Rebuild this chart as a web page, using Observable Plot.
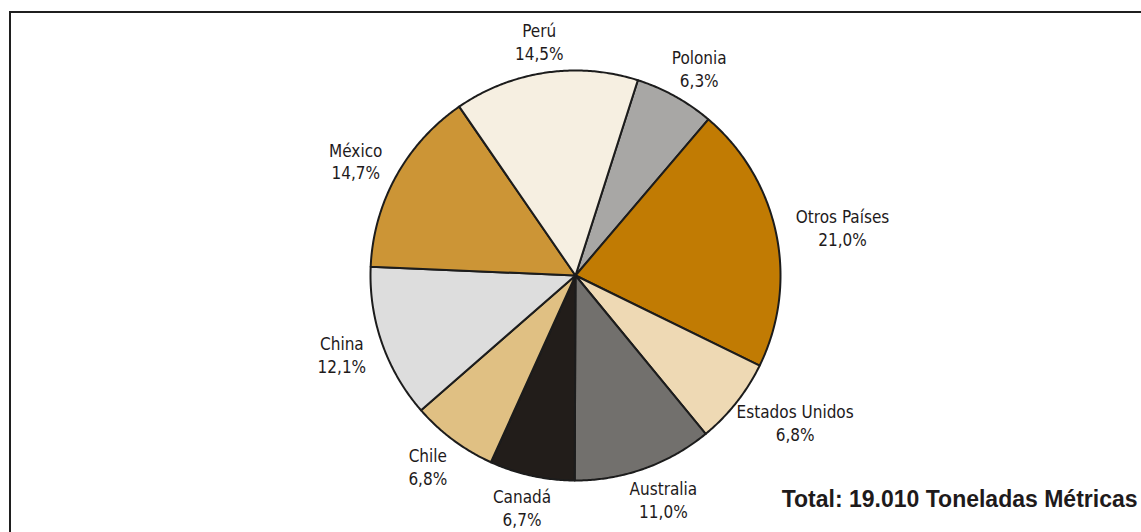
<!DOCTYPE html>
<html><head><meta charset="utf-8">
<script src="https://cdn.jsdelivr.net/npm/d3@7"></script>
<script src="https://cdn.jsdelivr.net/npm/@observablehq/plot@0.6"></script>
<style>
body{margin:0;background:#fff;overflow:hidden}
#wrap{position:relative;width:1141px;height:532px;overflow:hidden}
#wrap svg{display:block}
#border{position:absolute;left:9px;top:11px;width:1200px;height:600px;border-left:2px solid #1f1f1f;border-top:2px solid #1f1f1f;pointer-events:none}
</style></head><body><div id="wrap"></div>
<script>
const countries = ["Polonia","Otros Países","Estados Unidos","Australia","Canadá","Chile","China","México","Perú"];
const shares = [6.3,21.0,6.8,11.0,6.7,6.8,12.1,14.7,14.5];
const shareLabels = ["6,3%","21,0%","6,8%","11,0%","6,7%","6,8%","12,1%","14,7%","14,5%"];
const colors = ["#a8a7a5","#c17b03","#eed9b4","#72706d","#221d1a","#e0c083","#dddddd","#cc9536","#f6efe1"];
const totalLabel = "Total: 19.010 Toneladas Métricas";

// layout
const W = 1141, H = 532, R = 205, CX = 575, CY = 275;
const startDeg = 17.7;
const font = "'Liberation Sans Narrow','DejaVu Sans Condensed',sans-serif";

const sum = d3.sum(shares);
let acc = startDeg * Math.PI / 180;
const slices = countries.map((c, i) => {
  const a0 = acc, a1 = acc + shares[i] / sum * 2 * Math.PI;
  acc = a1;
  return {c, a0, a1, mid: (a0 + a1) / 2, pct: shareLabels[i]};
});
const pts = [];
for (const s of slices) {
  pts.push({c: s.c, x: 0, y: 0});
  const n = Math.max(2, Math.ceil((s.a1 - s.a0) / (Math.PI / 360)));
  for (let k = 0; k <= n; k++) {
    const a = s.a0 + (s.a1 - s.a0) * k / n;
    pts.push({c: s.c, x: Math.sin(a), y: Math.cos(a)});
  }
  pts.push({c: s.c, x: 0, y: 0});
}
// label placement: elliptical offset ring plus half label box
const RX = 1.12, RY = 1.03, halfH = 26, charW = 7.2;
const labels = slices.map(s => {
  const w = Math.max(s.c.length, s.pct.length) * charW;
  const sn = Math.sin(s.mid), cs = Math.cos(s.mid);
  return {
    text: s.c + "\n" + s.pct,
    x: (RX * R + w / 2) * sn / R,
    y: (RY * R + halfH) * cs / R
  };
});

const chart = Plot.plot({
  width: W, height: H,
  margin: 0,
  x: {domain: [-CX / R, (W - CX) / R], range: [0, W], axis: null},
  y: {domain: [-(H - CY) / R, CY / R], range: [H, 0], axis: null},
  color: {domain: countries, range: colors},
  style: {background: "#fff"},
  marks: [
    Plot.line(pts, {x: "x", y: "y", z: "c", fill: "c", stroke: "#1c1c1c", strokeWidth: 2, strokeLinejoin: "round", curve: "linear"}),
    Plot.text(labels, {x: "x", y: "y", text: "text", fontSize: 17, lineHeight: 1.35, fontFamily: font, fill: "#1e1a1b"}),
    Plot.text([totalLabel], {frameAnchor: "bottom-right", textAnchor: "end", lineAnchor: "bottom", dx: -4, dy: -26, fontSize: 23, fontWeight: "bold", fontFamily: "'Liberation Sans',sans-serif", fill: "#1e1a1b"})
  ]
});
const wrap = document.getElementById("wrap");
wrap.appendChild(chart);
const b = document.createElement("div");
b.id = "border";
wrap.appendChild(b);
</script>
</body></html>
